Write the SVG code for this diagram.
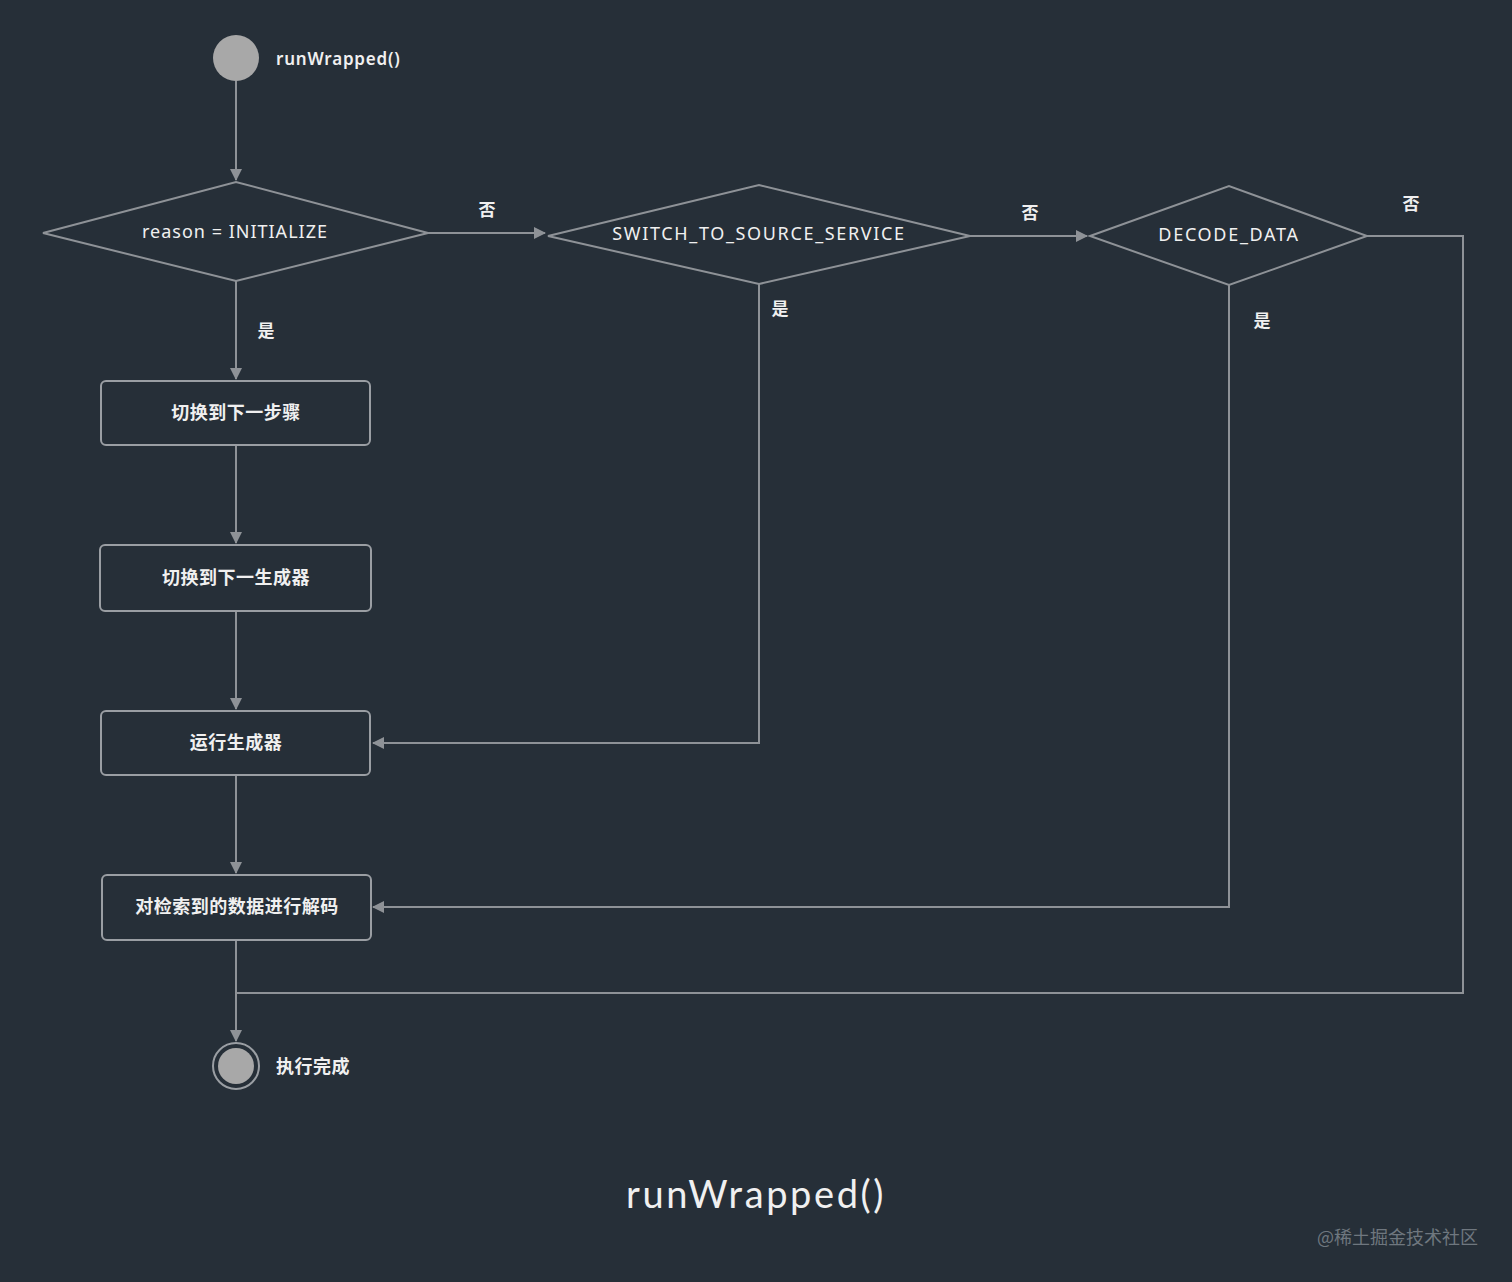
<svg xmlns="http://www.w3.org/2000/svg" width="1512" height="1282" viewBox="0 0 1512 1282">
<defs>
<marker id="ah" markerWidth="12" markerHeight="12" refX="11" refY="6" orient="auto" markerUnits="userSpaceOnUse">
<path d="M0,0 L12,6 L0,12 Z" fill="#8e9297"/>
</marker>
<style>
.ln{fill:none;stroke:#8e9297;stroke-width:2}
.nd{fill:#262f38;stroke:#8e9297;stroke-width:2}
.bx{fill:#262f38;stroke:#9a9ea3;stroke-width:2}
.t{font-family:"Noto Sans","Noto Sans CJK SC",sans-serif;font-size:18px;fill:#f0f0f0;text-anchor:middle}
.c{font-family:"Noto Sans CJK SC",sans-serif;font-size:18px;fill:#f0f0f0;font-weight:bold;text-anchor:middle;letter-spacing:0.5px}
.l{font-family:"Noto Sans CJK SC",sans-serif;font-size:17px;fill:#f0f0f0;font-weight:bold;text-anchor:middle}
</style>
</defs>
<rect width="1512" height="1282" fill="#262f38"/>
<g id="connectors">
<line class="ln" x1="236" y1="81" x2="236" y2="180" marker-end="url(#ah)"/>
<line class="ln" x1="428" y1="233" x2="545" y2="233" marker-end="url(#ah)"/>
<line class="ln" x1="970" y1="236" x2="1087" y2="236" marker-end="url(#ah)"/>
<polyline class="ln" points="1367,236 1463,236 1463,993 236,993"/>
<line class="ln" x1="236" y1="281" x2="236" y2="379" marker-end="url(#ah)"/>
<line class="ln" x1="236" y1="445" x2="236" y2="543" marker-end="url(#ah)"/>
<line class="ln" x1="236" y1="611" x2="236" y2="709" marker-end="url(#ah)"/>
<polyline class="ln" points="759,284 759,743 373,743" marker-end="url(#ah)"/>
<line class="ln" x1="236" y1="775" x2="236" y2="873" marker-end="url(#ah)"/>
<polyline class="ln" points="1229,285 1229,907 373,907" marker-end="url(#ah)"/>
<line class="ln" x1="236" y1="940" x2="236" y2="1041" marker-end="url(#ah)"/>
<text class="l" x="487" y="216">否</text>
<text class="l" x="1030" y="219">否</text>
<text class="l" x="1411" y="210">否</text>
<text class="l" x="266" y="337">是</text>
<text class="l" x="780" y="315">是</text>
<text class="l" x="1262" y="327">是</text>
</g>
<g id="start">
<circle cx="236" cy="58" r="23" fill="#a8a8a8"/>
<text x="276" y="65" font-family="'Noto Sans',sans-serif" font-size="17" font-weight="600" fill="#f0f0f0" letter-spacing="0.8">runWrapped()</text>
</g>
<g id="d1">
<polygon class="nd" points="43,233 236,182 428,233 236,281"/>
<text class="t" x="235" y="238" letter-spacing="1">reason = INITIALIZE</text>
</g>
<g id="d2">
<polygon class="nd" points="548,236 759,185 970,236 759,284"/>
<text class="t" x="759" y="240" letter-spacing="1.65">SWITCH_TO_SOURCE_SERVICE</text>
</g>
<g id="d3">
<polygon class="nd" points="1090,236 1229,186 1367,236 1229,285"/>
<text class="t" x="1229" y="241" letter-spacing="1.7">DECODE_DATA</text>
</g>
<g id="b1">
<rect class="bx" x="101" y="381" width="269" height="64" rx="5"/>
<text class="c" x="236" y="419">切换到下一步骤</text>
</g>
<g id="b2">
<rect class="bx" x="100" y="545" width="271" height="66" rx="5"/>
<text class="c" x="236" y="584">切换到下一生成器</text>
</g>
<g id="b3">
<rect class="bx" x="101" y="711" width="269" height="64" rx="5"/>
<text class="c" x="236" y="749">运行生成器</text>
</g>
<g id="b4">
<rect class="bx" x="102" y="875" width="269" height="65" rx="5"/>
<text class="c" x="237" y="913">对检索到的数据进行解码</text>
</g>
<g id="end">
<circle cx="236" cy="1066" r="23" fill="#262f38" stroke="#9a9ea3" stroke-width="2"/>
<circle cx="236" cy="1066" r="18" fill="#a8a8a8"/>
<text x="276" y="1073" font-family="'Noto Sans CJK SC',sans-serif" font-size="18" font-weight="bold" fill="#f0f0f0" letter-spacing="0.5">执行完成</text>
</g>
<text x="756" y="1208" font-family="Lato,'Noto Sans',sans-serif" font-size="38" fill="#f0f0f0" text-anchor="middle" letter-spacing="2.6">runWrapped()</text>
<text x="1478" y="1244" font-family="'Noto Sans CJK SC',sans-serif" font-size="18" fill="#6f777f" text-anchor="end">@稀土掘金技术社区</text>
</svg>
